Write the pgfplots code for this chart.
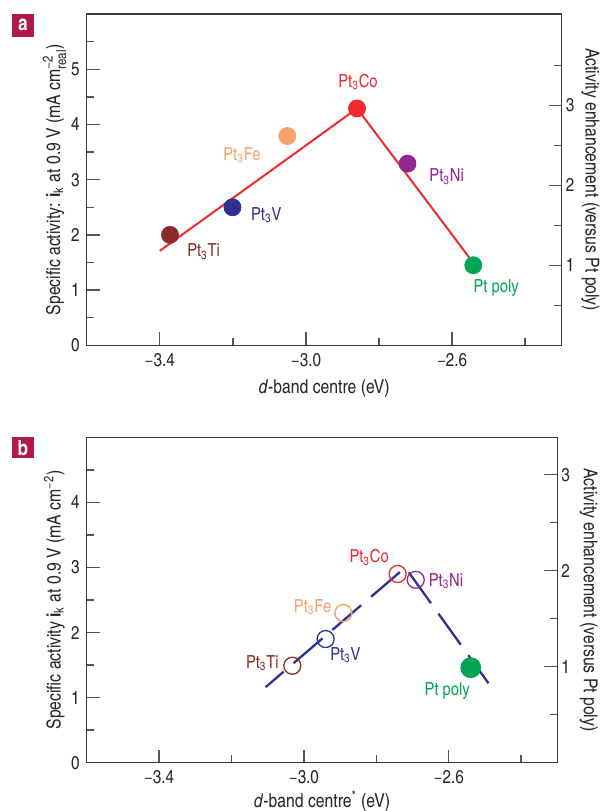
\documentclass[border=0pt]{standalone}
\usepackage{fontspec}
\setmainfont{texgyreheroscn}[Extension=.otf, UprightFont=*-regular, BoldFont=*-bold,
  ItalicFont=*-italic, BoldItalicFont=*-bolditalic]
\usepackage{pgfplots}
\pgfplotsset{compat=1.18}

\definecolor{axcol}{HTML}{3A3A3A}
\definecolor{tickcol}{HTML}{555555}
\definecolor{cTi}{HTML}{8E2A2A}
\definecolor{cV}{HTML}{2E3192}
\definecolor{cFe}{HTML}{F4A26B}
\definecolor{cCo}{HTML}{EE2A2F}
\definecolor{cNi}{HTML}{92278F}
\definecolor{cPt}{HTML}{00A651}
\definecolor{cPanel}{HTML}{B0174C}
\newcommand{\fsz}{\fontsize{9}{10}\selectfont}
\newcommand{\tsz}{\fontsize{9.3}{10}\selectfont}
\newcommand{\lsz}{\fontsize{9.6}{11}\selectfont}
\newcommand{\ssz}{\fontsize{7}{8}\selectfont}

\pgfplotsset{
  base/.style={
    scale only axis, clip=false,
    xmin=-3.6, xmax=-2.3,
    tick align=inside,
    major tick length=6.5pt, minor tick length=3.75pt,
    axis line style={axcol, line width=0.7pt},
    tick style={tickcol, line width=0.7pt},
    /pgf/number format/assume math mode=true,
    tick label style={font=\tsz, text=black!85},
    label style={font=\lsz, text=black!85},
  },
  xaxis/.style={
    xtick={-3.4,-3.0,-2.6}, xticklabels={−3.4,−3.0,−2.6},
    minor xtick={-3.2,-2.8,-2.4},
    xtick pos=lower, ytick pos=left,
    xticklabel style={anchor=base, yshift=-10.4pt},
  },
  twin/.style={
    axis x line=none, axis y line*=right,
    ytick pos=right, yticklabel pos=right,
    yticklabel style={xshift=-1.5pt},
  },
}

\begin{document}
\begin{tikzpicture}
\useasboundingbox (0,0) rectangle (300.5pt,405.5pt);

% ---------- panel a ----------
\begin{axis}[base, xaxis,
  at={(43.35pt,232.85pt)}, anchor=south west,
  width=237.5pt, height=165.65pt,
  ymin=0, ymax=6, ytick={0,1,2,3,4,5}, minor ytick={0.5,1.5,2.5,3.5,4.5,5.5},
  xlabel={\textit{d}-band centre (eV)},
  xlabel style={at={(axis description cs:0.5,-0.1449)}, anchor=base},
  ylabel={Specific activity: \textbf{i}\textsubscript{k} at 0.9 V (mA cm$^{\mbox{\ssz −2}}_{\mbox{\ssz real}}$)},
  ylabel style={at={(axis description cs:-0.0562,0.5)}, anchor=base},
]
\addplot[only marks, mark=*, mark size=4.25pt, cTi] coordinates {(-3.372,2.0)};
\addplot[only marks, mark=*, mark size=4.25pt, cV]  coordinates {(-3.201,2.5)};
\addplot[only marks, mark=*, mark size=4.25pt, cFe] coordinates {(-3.051,3.79)};
\addplot[only marks, mark=*, mark size=4.25pt, cCo] coordinates {(-2.860,4.29)};
\addplot[only marks, mark=*, mark size=4.25pt, cNi] coordinates {(-2.722,3.29)};
\addplot[only marks, mark=*, mark size=4.25pt, cPt] coordinates {(-2.542,1.45)};
\addplot[cCo, line width=1pt, mark=none] coordinates {(-3.40,1.71) (-2.86,4.29) (-2.536,1.44)};

\node[anchor=base, text=cTi, font=\fsz] at (axis cs:-3.280,1.603) {Pt\textsubscript{3}Ti};
\node[anchor=base, text=cV,  font=\fsz] at (axis cs:-3.1085,2.267) {Pt\textsubscript{3}V};
\node[anchor=base, text=cFe, font=\fsz] at (axis cs:-3.175,3.353) {Pt\textsubscript{3}Fe};
\node[anchor=base, text=cCo, font=\fsz] at (axis cs:-2.8575,4.668) {Pt\textsubscript{3}Co};
\node[anchor=base, text=cNi, font=\fsz] at (axis cs:-2.615,2.96) {Pt\textsubscript{3}Ni};
\node[anchor=base, text=cPt, font=\fsz] at (axis cs:-2.4795,0.959) {Pt poly};
\end{axis}

\begin{axis}[base, twin,
  at={(43.35pt,232.85pt)}, anchor=south west,
  width=237.5pt, height=165.65pt,
  ymin=0, ymax=4.14, ytick={1,2,3}, minor ytick={0.5,1.5,2.5,3.5},
  ylabel={Activity enhancement (versus Pt poly)},
  ylabel style={at={(axis description cs:1.0505,0.5)}, anchor=base, rotate=180},
]
\end{axis}

% ---------- panel b ----------
\begin{axis}[base, xaxis,
  at={(43.35pt,24.15pt)}, anchor=south west,
  width=235.3pt, height=162.7pt,
  ymin=0, ymax=5, ytick={0,1,2,3,4}, minor ytick={0.5,1.5,2.5,3.5,4.5},
  xlabel={\textit{d}-band centre\textsuperscript{*} (eV)},
  xlabel style={at={(axis description cs:0.5,-0.138)}, anchor=base},
  ylabel={Specific activity \textbf{i}\textsubscript{k} at 0.9 V (mA cm\textsuperscript{−2})},
  ylabel style={at={(axis description cs:-0.0553,0.5)}, anchor=base},
]
\addplot[only marks, mark=o, mark size=4.25pt, line width=0.65pt, cTi] coordinates {(-3.032,1.49)};
\addplot[only marks, mark=o, mark size=4.25pt, line width=0.65pt, cV]  coordinates {(-2.940,1.90)};
\addplot[only marks, mark=o, mark size=4.25pt, line width=0.65pt, cFe] coordinates {(-2.891,2.30)};
\addplot[only marks, mark=o, mark size=4.25pt, line width=0.65pt, cCo] coordinates {(-2.741,2.90)};
\addplot[only marks, mark=o, mark size=4.25pt, line width=0.65pt, cNi] coordinates {(-2.691,2.81)};
\addplot[only marks, mark=*, mark size=5pt, cPt] coordinates {(-2.539,1.46)};
\addplot[cV, line width=1.15pt, mark=none, dash pattern=on 19pt off 6.5pt, dash phase=7pt]
  coordinates {(-3.106,1.16) (-2.720,3.00) (-2.490,1.22)};

\node[anchor=base, text=cTi, font=\fsz] at (axis cs:-3.1147,1.45) {Pt\textsubscript{3}Ti};
\node[anchor=base, text=cV,  font=\fsz] at (axis cs:-2.8853,1.567) {Pt\textsubscript{3}V};
\node[anchor=base, text=cFe, font=\fsz] at (axis cs:-2.976,2.304) {Pt\textsubscript{3}Fe};
\node[anchor=base, text=cCo, font=\fsz] at (axis cs:-2.8197,3.072) {Pt\textsubscript{3}Co};
\node[anchor=base, text=cNi, font=\fsz] at (axis cs:-2.6075,2.704) {Pt\textsubscript{3}Ni};
\node[anchor=base, text=cPt, font=\fsz] at (axis cs:-2.6042,1.04) {Pt poly};
\end{axis}

\begin{axis}[base, twin,
  at={(43.35pt,24.15pt)}, anchor=south west,
  width=235.3pt, height=162.7pt,
  ymin=0, ymax=3.39, ytick={1,2,3}, minor ytick={0.5,1.5,2.5},
  ylabel={Activity enhancement (versus Pt poly)},
  ylabel style={at={(axis description cs:1.0567,0.5)}, anchor=base, rotate=180},
]
\end{axis}

% panel tags
\node[fill=cPanel, text=white, font=\fontsize{10.5}{11}\selectfont\bfseries,
  minimum width=11.15pt, minimum height=11.35pt, inner sep=0pt] at (11.43pt,392.8pt) {a};
\node[fill=cPanel, text=white, font=\fontsize{10.5}{11}\selectfont\bfseries,
  minimum width=11.15pt, minimum height=10.5pt, inner sep=0pt] at (11.43pt,181.6pt) {b};
\end{tikzpicture}
\end{document}
